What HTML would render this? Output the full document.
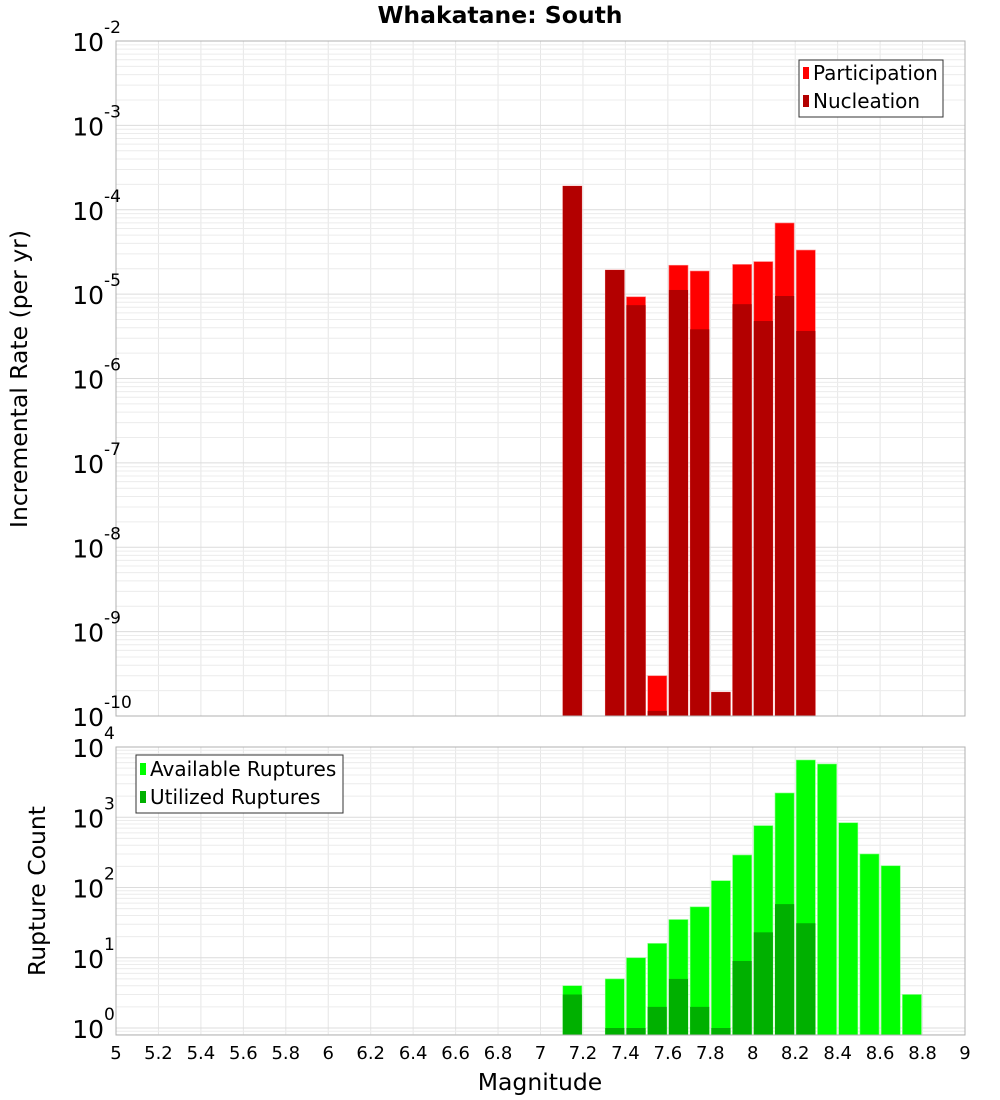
<!DOCTYPE html>
<html><head><meta charset="utf-8">
<style>
body{margin:0;background:#fff;}
svg{display:block;font-family:"DejaVu Sans","Liberation Sans",sans-serif;}
</style></head>
<body>
<svg id="chart" width="1000" height="1100" viewBox="0 0 1000 1100"></svg>
<script>
const mags = [7.15,7.35,7.45,7.55,7.65,7.75,7.85,7.95,8.05,8.15,8.25];
const participation = [1.91e-4,1.93e-5,9.3e-6,3.0e-10,2.2e-5,1.88e-5,1.92e-10,2.25e-5,2.43e-5,6.97e-5,3.33e-5];
const nucleation = [1.91e-4,1.93e-5,7.4e-6,1.15e-10,1.12e-5,3.83e-6,1.92e-10,7.6e-6,4.8e-6,9.5e-6,3.66e-6];
const countMags = [7.15,7.35,7.45,7.55,7.65,7.75,7.85,7.95,8.05,8.15,8.25,8.35,8.45,8.55,8.65,8.75];
const available = [4,5,10,16,35,53,125,290,760,2215,6530,5730,835,300,204,3];
const utilized = [3,1,1,2,5,2,1,9,23,58,31,0,0,0,0,0];
const xTicks = [5,5.2,5.4,5.6,5.8,6,6.2,6.4,6.6,6.8,7,7.2,7.4,7.6,7.8,8,8.2,8.4,8.6,8.8,9];
const topExps = [-2,-3,-4,-5,-6,-7,-8,-9,-10];
const botExps = [0,1,2,3,4];

const NS="http://www.w3.org/2000/svg";
const svg=document.getElementById('chart');
function mk(tag,attrs,parent){const e=document.createElementNS(NS,tag);for(const k in attrs)e.setAttribute(k,attrs[k]);(parent||svg).appendChild(e);return e;}
const X0=116,X1=965;
const x=m=>X0+(m-5)/4*(X1-X0);
const T0=41,T1=716;
const yTop=v=>T0+(-2-Math.log10(v))*(T1-T0)/8;
const B0=747,B1=1035,BD=70.25,BY0=1028;
const yBot=v=>BY0-Math.log10(v)*BD;

function grid(y0,y1,yfn,eLo,eHi){
  const g=mk('g',{});
  
  
  for(const t of xTicks){mk('line',{x1:x(t),x2:x(t),y1:y0,y2:y1,stroke:'#e6e6e6','stroke-width':1},g);}
  for(let e=eLo;e<=eHi;e++)for(let k=1;k<10;k++){const yy=yfn(k*Math.pow(10,e));if(yy>=y0&&yy<=y1)mk('line',{x1:X0,x2:X1,y1:yy,y2:yy,stroke:k==1?'#dcdcdc':'#ececec','stroke-width':1},g);}
}
grid(T0,T1,yTop,-10,-3);
grid(B0,B1,yBot,-1,3);

const bw=(X1-X0)/40*0.9;
mags.forEach((m,i)=>{
  const p=mk('rect',{x:x(m)-bw/2,y:yTop(participation[i]),width:bw,height:T1-yTop(participation[i]),fill:'#ff0000',stroke:'#ff8080','stroke-width':0.6});
  
  
  const n=mk('rect',{x:x(m)-bw/2,y:yTop(nucleation[i]),width:bw,height:T1-yTop(nucleation[i]),fill:'#b30000'});
  
  
});
countMags.forEach((m,i)=>{
  const a=mk('rect',{x:x(m)-bw/2,y:yBot(available[i]),width:bw,height:B1-yBot(available[i]),fill:'#00ff00',stroke:'#80ff80','stroke-width':0.6});
  
  
  if(utilized[i]>0){
    const u=mk('rect',{x:x(m)-bw/2,y:yBot(utilized[i]),width:bw,height:B1-yBot(utilized[i]),fill:'#00b000'});
    
    
  }
});
mk('rect',{x:X0,y:T0,width:X1-X0,height:T1-T0,fill:'none',stroke:'#b0b0b0'});
mk('rect',{x:X0,y:B0,width:X1-X0,height:B1-B0,fill:'none',stroke:'#b0b0b0'});

function expLabel(yy,e,name){
  const t=mk('text',{x:104,y:yy+10,'text-anchor':'end','font-size':25,fill:'#000'});
  
  
  t.textContent='10';
  const s=mk('text',{x:104,y:yy-8,'text-anchor':'start','font-size':17,fill:'#000'});
  
  
  s.textContent=String(e);
}
topExps.forEach(e=>expLabel(yTop(Math.pow(10,e)),e,'top-y-tick'));
botExps.forEach(e=>expLabel(yBot(Math.pow(10,e)),e,'bottom-y-tick'));
xTicks.forEach(t=>{
  const tx=mk('text',{x:x(t),y:1059,'text-anchor':'middle','font-size':18,fill:'#000'});
  
  
  tx.textContent=String(t);
});
</script>
<svg style="position:absolute;left:0;top:0" width="1000" height="1100" font-family="DejaVu Sans, Liberation Sans, sans-serif">
<text x="500" y="23" text-anchor="middle" font-size="23.5" font-weight="bold">Whakatane: South</text>
<text x="540" y="1090" text-anchor="middle" font-size="23.5">Magnitude</text>
<text transform="translate(27,379) rotate(-90)" text-anchor="middle" font-size="23.5">Incremental Rate (per yr)</text>
<text transform="translate(45,891) rotate(-90)" text-anchor="middle" font-size="23.5">Rupture Count</text>
<g font-size="20">
<rect x="799" y="60" width="144" height="57" fill="#fff" stroke="#333"/>
<rect x="803" y="67" width="6" height="12" fill="#ff0000"/>
<text x="813" y="80">Participation</text>
<rect x="803" y="95" width="6" height="12" fill="#b30000"/>
<text x="813" y="108">Nucleation</text>
</g>
<g font-size="20">
<rect x="136" y="755" width="207" height="58" fill="#fff" stroke="#333"/>
<rect x="140" y="763" width="6" height="12" fill="#00ff00"/>
<text x="150" y="776">Available Ruptures</text>
<rect x="140" y="791" width="6" height="12" fill="#00b000"/>
<text x="150" y="804">Utilized Ruptures</text>
</g>
</svg>
</body></html>
